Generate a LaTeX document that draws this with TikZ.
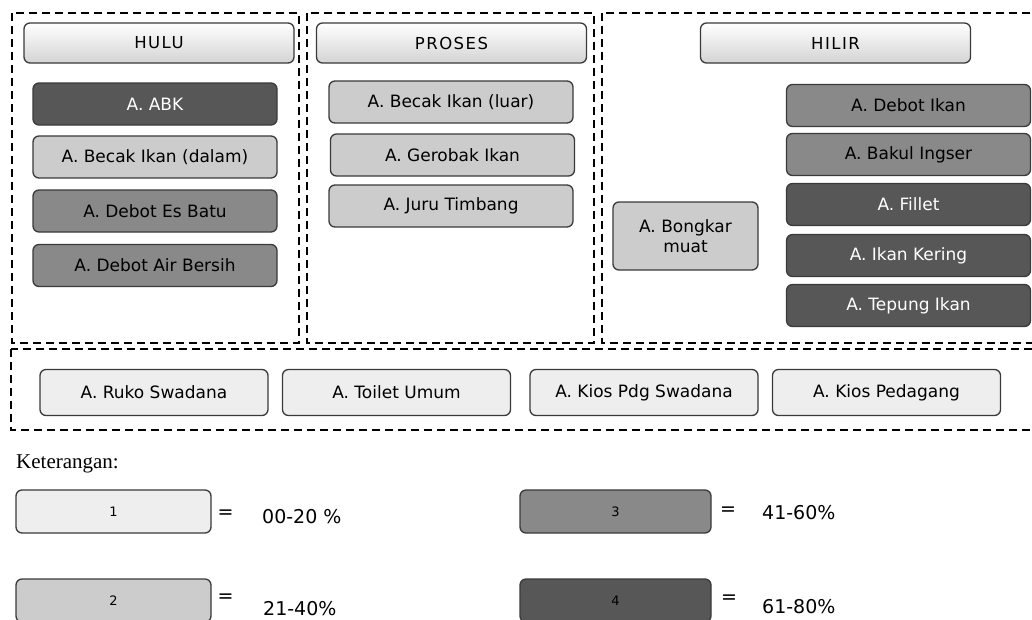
\documentclass[tikz,border=0pt]{standalone}
\usepackage{fontspec}
\newfontfamily\boxfont{DejaVu Sans}
\newfontfamily\hdrfont[LetterSpace=9]{DejaVu Sans}
\newfontfamily\ketfont{Liberation Serif}
\definecolor{lvA}{HTML}{EEEEEE}
\definecolor{lvB}{HTML}{CCCCCC}
\definecolor{lvC}{HTML}{898989}
\definecolor{lvD}{HTML}{575757}
\definecolor{edge}{HTML}{3A3A3A}
\tikzset{
  box/.style={rounded corners=6pt, draw=edge, line width=1.3pt, inner sep=0pt,
    font=\boxfont\fontsize{17}{20}\selectfont, text=black, align=center},
  lvone/.style={box, fill=lvA},
  lvtwo/.style={box, fill=lvB},
  lvthree/.style={box, fill=lvC},
  lvfour/.style={box, fill=lvD, text=white},
  wide/.style={minimum width=244pt, minimum height=42pt},
  hdr/.style={box, top color=white, bottom color=black!17, minimum width=270pt,
    minimum height=40pt, font=\hdrfont\fontsize{16.5}{19}\selectfont},
  zone/.style={draw=black, line width=2pt, dash pattern=on 8pt off 5pt},
  key/.style={box, minimum height=43pt, font=\boxfont\fontsize{13}{15}\selectfont},
  eqs/.style={font=\boxfont\fontsize{19}{21}\selectfont},
  pct/.style={font=\boxfont\fontsize{19}{21}\selectfont, anchor=west, inner sep=0pt},
}
\begin{document}
\begin{tikzpicture}[x=1pt,y=-1pt]
\useasboundingbox (0,0) rectangle (1032,619);
\clip (0,0) rectangle (1032,619);
\fill[white] (0,0) rectangle (1032,619);

% dashed zones
\draw[zone] (12,13) rectangle (299,343);
\draw[zone] (307,13) rectangle (594,343);
\draw[zone] (602,13) rectangle (1045,343);
\draw[zone] (11,349) rectangle (1045,430);

% headers
\node[hdr] (hulu) at (159,43) {HULU};
\node[hdr] (proses) at (451.5,43) {PROSES};
\node[hdr] (hilir) at (835.5,43) {HILIR};

% hulu
\node[lvfour, wide] (abk) at (155,104) {A. ABK};
\node[lvtwo, wide] (bdalam) at (155,157) {A. Becak Ikan (dalam)};
\node[lvthree, wide] (esbatu) at (155,211) {A. Debot Es Batu};
\node[lvthree, wide] (air) at (155,265.5) {A. Debot Air Bersih};

% proses
\node[lvtwo, wide] (bluar) at (451,102) {A. Becak Ikan (luar)};
\node[lvtwo, wide] (gerobak) at (452.5,155) {A. Gerobak Ikan};
\node[lvtwo, wide] (juru) at (451,206) {A. Juru Timbang};

% hilir
\node[lvtwo, minimum width=145pt, minimum height=68pt] (bongkar) at (685.5,236) {A. Bongkar\\muat};
\node[lvthree, wide] (dikan) at (908.5,105.5) {A. Debot Ikan};
\node[lvthree, wide] (bakul) at (908.5,154.5) {A. Bakul Ingser};
\node[lvfour, wide] (fillet) at (908.5,204.5) {A. Fillet};
\node[lvfour, wide] (kering) at (908.5,255.5) {A. Ikan Kering};
\node[lvfour, wide] (tepung) at (908.5,305.5) {A. Tepung Ikan};

% supporting facilities
\node[lvone, minimum width=228pt, minimum height=46pt] (ruko) at (154,392.5) {A. Ruko Swadana};
\node[lvone, minimum width=228pt, minimum height=46pt] (toilet) at (396.5,392.5) {A. Toilet Umum};
\node[lvone, minimum width=228pt, minimum height=46pt] (kiospdg) at (644,392.5) {A. Kios Pdg Swadana};
\node[lvone, minimum width=228pt, minimum height=46pt] (kios) at (886.5,392.5) {A. Kios Pedagang};

% legend
\node[font=\ketfont\fontsize{21}{23}\selectfont, anchor=west, inner sep=0pt] (ket) at (16,464) {Keterangan:};
\node[key, fill=lvA, minimum width=195pt] (k1) at (113.5,511.5) {1};
\node[key, fill=lvB, minimum width=195pt] (k2) at (113.5,600.5) {2};
\node[key, fill=lvC, minimum width=191pt] (k3) at (615.5,511.5) {3};
\node[key, fill=lvD, minimum width=191pt] (k4) at (615.5,600.5) {4};
\node[eqs] (e1) at (225.5,514) {=};
\node[eqs] (e2) at (225.5,598) {=};
\node[eqs] (e3) at (728,511) {=};
\node[eqs] (e4) at (729,599) {=};
\node[pct] (p1) at (262,517) {00-20 \%};
\node[pct] (p2) at (263,609) {21-40\%};
\node[pct] (p3) at (762,513) {41-60\%};
\node[pct] (p4) at (762,607) {61-80\%};
\end{tikzpicture}
\end{document}
